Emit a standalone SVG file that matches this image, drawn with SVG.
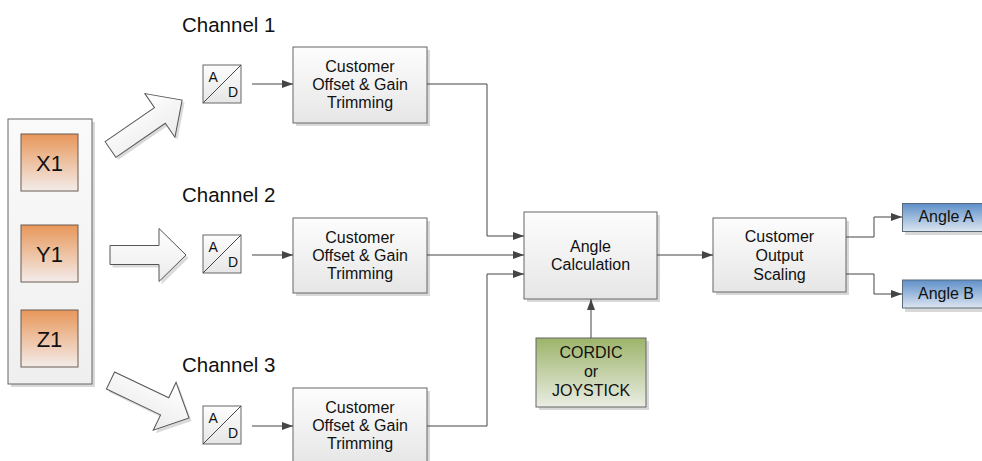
<svg xmlns="http://www.w3.org/2000/svg" width="982" height="461" viewBox="0 0 982 461">
<defs>
  <linearGradient id="gBox" x1="0" y1="0" x2="0" y2="1">
    <stop offset="0" stop-color="#FDFDFD"/>
    <stop offset="1" stop-color="#E6E6E6"/>
  </linearGradient>
  <linearGradient id="gCont" x1="0" y1="0" x2="0" y2="1">
    <stop offset="0" stop-color="#FAFAFA"/>
    <stop offset="1" stop-color="#EFEFEF"/>
  </linearGradient>
  <linearGradient id="gOrange" x1="0" y1="0" x2="0" y2="1">
    <stop offset="0" stop-color="#E8975A"/>
    <stop offset="1" stop-color="#F3ECEA"/>
  </linearGradient>
  <linearGradient id="gGreen" x1="0" y1="0" x2="0" y2="1">
    <stop offset="0" stop-color="#9DB46A"/>
    <stop offset="1" stop-color="#EAEDE4"/>
  </linearGradient>
  <linearGradient id="gBlue" x1="0" y1="0" x2="0" y2="1">
    <stop offset="0" stop-color="#5E8FC8"/>
    <stop offset="1" stop-color="#DDE6F1"/>
  </linearGradient>
  <linearGradient id="gArrow" x1="0" y1="0" x2="0" y2="1">
    <stop offset="0" stop-color="#FFFFFF"/>
    <stop offset="1" stop-color="#EBEBEB"/>
  </linearGradient>
  <marker id="ah" viewBox="0 0 11 8" refX="11" refY="4" markerWidth="11" markerHeight="8" markerUnits="userSpaceOnUse" orient="auto">
    <path d="M0,0 L11,4 L0,8 Z" fill="#444"/>
  </marker>
  <path id="bigArrowLong" d="M0,-9.5 L60,-9.5 L60,-26.5 L87,0 L60,26.5 L60,9.5 L0,9.5 Z"/>
  <path id="bigArrowShort" d="M0,-9.5 L49,-9.5 L49,-26.5 L76,0 L49,26.5 L49,9.5 L0,9.5 Z"/>
</defs>
<style>
  text { font-family: "Liberation Sans", Arial, sans-serif; fill: #111; }
  .lbl { font-size: 16px; text-anchor: middle; }
  .ch { font-size: 20.5px; }
  .big { font-size: 22px; text-anchor: middle; }
  .ad { font-size: 14px; }
  .box { fill: url(#gBox); stroke: #666; stroke-width: 1; }
  .shadow { fill: #D8D8D8; }
  .cont { fill: url(#gCont); stroke: #666; stroke-width: 1; }
  .orange { fill: url(#gOrange); stroke: #6B5A4F; stroke-width: 1; }
  .green { fill: url(#gGreen); stroke: #666; stroke-width: 1; }
  .blue { fill: url(#gBlue); stroke: #5A6A7A; stroke-width: 1; }
  .barrow { fill: url(#gArrow); stroke: #555; stroke-width: 1; }
  .barrowsh { fill: #DADADA; }
  .conn { fill: none; stroke: #444; stroke-width: 1; marker-end: url(#ah); }
</style>

<rect width="982" height="461" fill="#FFFFFF"/>

<!-- Channel labels -->
<text class="ch" x="182" y="32">Channel 1</text>
<text class="ch" x="182" y="202">Channel 2</text>
<text class="ch" x="182" y="372">Channel 3</text>

<!-- Sensor container -->
<g id="sensors">
  <rect class="shadow" x="11" y="122" width="84" height="265"/>
  <rect class="cont" x="8" y="119" width="84" height="265"/>
  <g id="x1">
    <rect class="orange" x="21" y="134" width="57" height="57"/>
    <text class="big" x="49.5" y="171">X1</text>
  </g>
  <g id="y1">
    <rect class="orange" x="21" y="225" width="57" height="57"/>
    <text class="big" x="49.5" y="262">Y1</text>
  </g>
  <g id="z1">
    <rect class="orange" x="21" y="310" width="57" height="57"/>
    <text class="big" x="49.5" y="347">Z1</text>
  </g>
</g>

<!-- Big block arrows -->
<g id="bigArrows">
  <g transform="translate(113,152) rotate(-34.6)"><use href="#bigArrowLong" class="barrowsh"/></g>
  <g transform="translate(110.5,149.5) rotate(-34.6)"><use href="#bigArrowLong" class="barrow"/></g>
  <g transform="translate(112.5,258)"><use href="#bigArrowShort" class="barrowsh"/></g>
  <g transform="translate(110,255)"><use href="#bigArrowShort" class="barrow"/></g>
  <g transform="translate(113,383.5) rotate(25.5)"><use href="#bigArrowLong" class="barrowsh"/></g>
  <g transform="translate(110.5,380.5) rotate(25.5)"><use href="#bigArrowLong" class="barrow"/></g>
</g>

<!-- A/D converters -->
<g id="ad1">
  <rect class="box" x="203" y="65" width="38" height="38"/>
  <line x1="203" y1="103" x2="241" y2="65" stroke="#444" stroke-width="1"/>
  <text class="ad" x="208.5" y="81.5">A</text>
  <text class="ad" x="228" y="97">D</text>
</g>
<g id="ad2">
  <rect class="box" x="203" y="235" width="38" height="38"/>
  <line x1="203" y1="273" x2="241" y2="235" stroke="#444" stroke-width="1"/>
  <text class="ad" x="208.5" y="251.5">A</text>
  <text class="ad" x="228" y="267">D</text>
</g>
<g id="ad3">
  <rect class="box" x="203" y="406" width="38" height="38"/>
  <line x1="203" y1="444" x2="241" y2="406" stroke="#444" stroke-width="1"/>
  <text class="ad" x="208.5" y="422.5">A</text>
  <text class="ad" x="228" y="438">D</text>
</g>

<!-- Trimming boxes -->
<g id="trim1">
  <rect class="shadow" x="296" y="50" width="134" height="76"/>
  <rect class="box" x="293" y="47" width="134" height="76"/>
  <text class="lbl" x="360" y="72">Customer</text>
  <text class="lbl" x="360" y="90">Offset &amp; Gain</text>
  <text class="lbl" x="360" y="108">Trimming</text>
</g>
<g id="trim2">
  <rect class="shadow" x="296" y="221" width="134" height="75"/>
  <rect class="box" x="293" y="218" width="134" height="75"/>
  <text class="lbl" x="360" y="243">Customer</text>
  <text class="lbl" x="360" y="261">Offset &amp; Gain</text>
  <text class="lbl" x="360" y="279">Trimming</text>
</g>
<g id="trim3">
  <rect class="shadow" x="296" y="391" width="134" height="76"/>
  <rect class="box" x="293" y="388" width="134" height="76"/>
  <text class="lbl" x="360" y="413">Customer</text>
  <text class="lbl" x="360" y="431">Offset &amp; Gain</text>
  <text class="lbl" x="360" y="449">Trimming</text>
</g>

<!-- Angle Calculation -->
<g id="angleCalc">
  <rect class="shadow" x="527" y="215" width="133" height="87"/>
  <rect class="box" x="524" y="212" width="133" height="87"/>
  <text class="lbl" x="590.5" y="252">Angle</text>
  <text class="lbl" x="590.5" y="270">Calculation</text>
</g>

<!-- CORDIC -->
<g id="cordic">
  <rect class="shadow" x="539" y="341" width="110" height="69"/>
  <rect class="green" x="536" y="338" width="110" height="69"/>
  <text class="lbl" x="591" y="358">CORDIC</text>
  <text class="lbl" x="591" y="377">or</text>
  <text class="lbl" x="591" y="396">JOYSTICK</text>
</g>

<!-- Output scaling -->
<g id="outScale">
  <rect class="shadow" x="716" y="221" width="133" height="74"/>
  <rect class="box" x="713" y="218" width="133" height="74"/>
  <text class="lbl" x="779.5" y="242">Customer</text>
  <text class="lbl" x="779.5" y="261">Output</text>
  <text class="lbl" x="779.5" y="280">Scaling</text>
</g>

<!-- Outputs -->
<g id="angleA">
  <rect class="shadow" x="905" y="206" width="90" height="29"/>
  <rect class="blue" x="902.5" y="203.5" width="90" height="28"/>
  <text class="lbl" x="946" y="222">Angle A</text>
</g>
<g id="angleB">
  <rect class="shadow" x="905" y="283" width="90" height="29"/>
  <rect class="blue" x="902.5" y="280" width="90" height="28"/>
  <text class="lbl" x="946" y="299">Angle B</text>
</g>

<!-- Connectors -->
<g id="connectors">
  <line class="conn" x1="252" y1="84" x2="293" y2="84"/>
  <line class="conn" x1="252" y1="255" x2="293" y2="255"/>
  <line class="conn" x1="252" y1="426" x2="293" y2="426"/>
  <polyline class="conn" points="427,84 487,84 487,236 524,236"/>
  <line class="conn" x1="427" y1="255" x2="524" y2="255"/>
  <polyline class="conn" points="427,426 487,426 487,274 524,274"/>
  <line class="conn" x1="591" y1="338" x2="591" y2="299"/>
  <line class="conn" x1="657" y1="255" x2="713" y2="255"/>
  <polyline class="conn" points="846,237 874,237 874,217 902,217"/>
  <polyline class="conn" points="846,274 874,274 874,294 902,294"/>
</g>
</svg>
